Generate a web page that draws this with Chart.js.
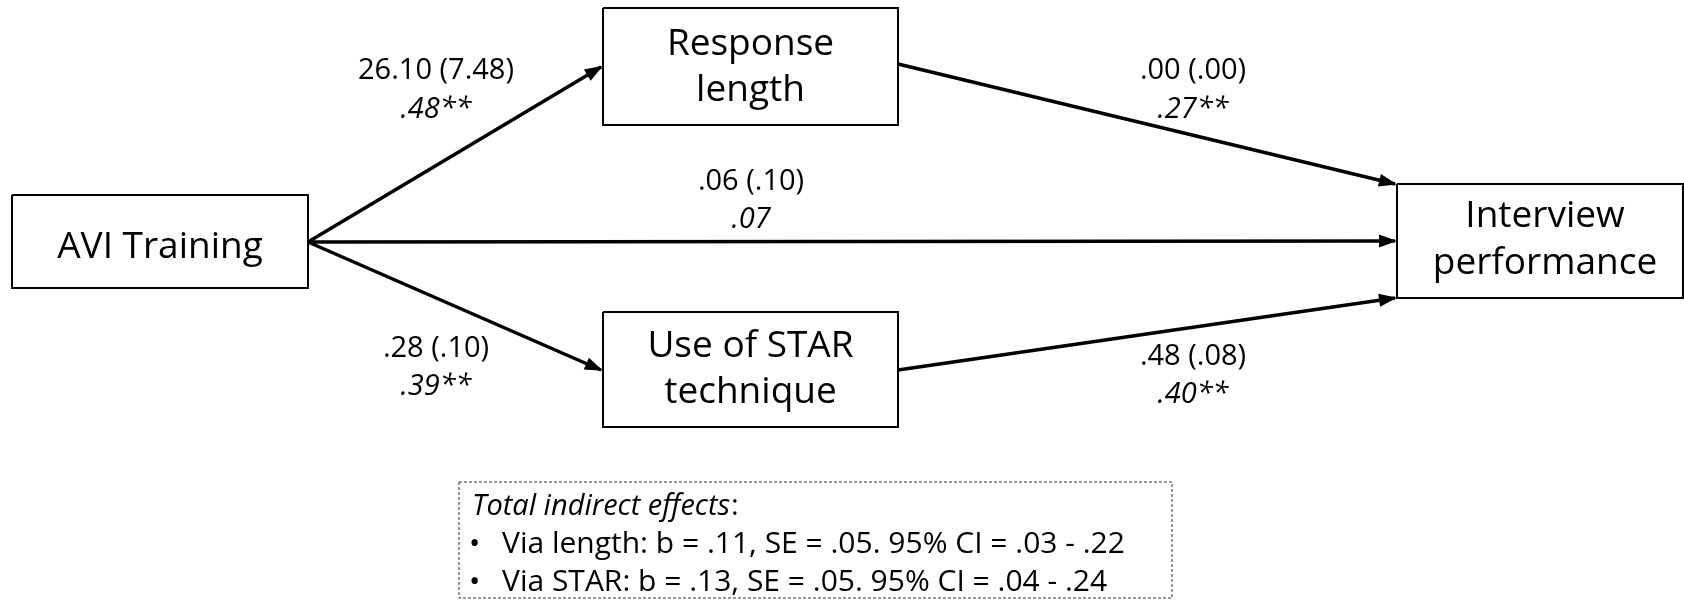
<!DOCTYPE html>
<html>
<head>
<meta charset="utf-8">
<script src="https://cdn.jsdelivr.net/npm/chart.js@4"></script>
<style>
  body { margin: 0; background: #fff; }
</style>
</head>
<body>
<canvas id="pathChart" width="1684" height="600"></canvas>
<script>
// model data
const nodes = ['AVI Training', 'Response\nlength', 'Use of STAR\ntechnique', 'Interview\nperformance'];
const pathFrom = [0, 1, 0, 0, 2];
const pathTo = [1, 3, 3, 2, 3];
const estimates = ['26.10', '.00', '.06', '.28', '.48'];
const stdErrors = ['7.48', '.00', '.10', '.10', '.08'];
const betas = ['.48**', '.27**', '.07', '.39**', '.40**'];
const indirectTitle = 'Total indirect effects';
const indirectLines = [
  'Via length: b = .11, SE = .05. 95% CI = .03 - .22',
  'Via STAR: b = .13, SE = .05. 95% CI = .04 - .24'
];

// layout (pixel-like units on a 1684 x 600 scale)
const nodeBoxes = [[12, 195, 308, 288], [603, 8, 898, 125], [603, 312, 898, 427], [1397, 184, 1683, 298]];
const nodeBaselines = [[258], [55, 101], [357, 403], [227, 274]];
const arrowEnds = [[308, 242, 601, 67], [898, 64, 1395, 184], [308, 242, 1395, 241], [308, 242, 601, 370], [898, 370, 1395, 298]];
const labelPos = [[436, 79, 118], [1193, 79, 118], [751, 190, 228], [436, 357, 395], [1193, 365, 403]];
const noteBox = [459, 482, 1172, 598];
const noteBaselines = [515, 553, 591];

const FONT = '"Open Sans", sans-serif';

function rect(b) {
  return [{x: b[0], y: b[1]}, {x: b[2], y: b[1]}, {x: b[2], y: b[3]}, {x: b[0], y: b[3]}, {x: b[0], y: b[1]}];
}

const datasets = [];
nodeBoxes.forEach((b, i) => {
  datasets.push({ label: 'box' + i, data: rect(b), borderColor: '#000', borderWidth: 2, pointRadius: 0, tension: 0, fill: false });
});
datasets.push({ label: 'note', data: rect(noteBox), borderColor: '#333', borderWidth: 1, borderDash: [3, 2], pointRadius: 0, fill: false });
arrowEnds.forEach((a, i) => {
  datasets.push({ label: 'arrow' + i, arrow: true, data: [{x: a[0], y: a[1]}, {x: a[2], y: a[3]}], borderColor: '#000', borderWidth: 3.5, pointRadius: 0, fill: false });
});

const diagramText = {
  id: 'diagramText',
  afterDatasetsDraw(chart) {
    const ctx = chart.ctx;
    const xs = chart.scales.x, ys = chart.scales.y;
    const px = v => xs.getPixelForValue(v), py = v => ys.getPixelForValue(v);
    ctx.save();
    ctx.fillStyle = '#000';
    // arrow heads
    chart.data.datasets.forEach(ds => {
      if (!ds.arrow) return;
      const p0 = ds.data[0], p1 = ds.data[1];
      const x0 = px(p0.x), y0 = py(p0.y), x1 = px(p1.x), y1 = py(p1.y);
      const ang = Math.atan2(y1 - y0, x1 - x0);
      const len = 16, half = 6.5;
      ctx.beginPath();
      ctx.moveTo(x1 + 2, y1 + 2 * Math.tan(ang));
      ctx.lineTo(x1 - len * Math.cos(ang) + half * Math.sin(ang), y1 - len * Math.sin(ang) - half * Math.cos(ang));
      ctx.lineTo(x1 - len * Math.cos(ang) - half * Math.sin(ang), y1 - len * Math.sin(ang) + half * Math.cos(ang));
      ctx.closePath();
      ctx.fill();
    });
    // node labels
    ctx.textAlign = 'center';
    ctx.textBaseline = 'alphabetic';
    ctx.font = '37px ' + FONT;
    nodes.forEach((n, i) => {
      const b = nodeBoxes[i];
      const cx = i === 3 ? 1545 : (b[0] + b[2]) / 2;
      n.split('\n').forEach((line, k) => ctx.fillText(line, px(cx), py(nodeBaselines[i][k])));
    });
    // path coefficients
    estimates.forEach((e, i) => {
      const p = labelPos[i];
      ctx.font = '29px ' + FONT;
      ctx.fillText(e + ' (' + stdErrors[i] + ')', px(p[0]), py(p[1]));
      ctx.font = 'italic 29px ' + FONT;
      ctx.fillText(betas[i], px(p[0]), py(p[2]));
    });
    // indirect effects note
    ctx.textAlign = 'left';
    ctx.font = 'italic 29px ' + FONT;
    ctx.fillText(indirectTitle, px(472), py(noteBaselines[0]));
    const tw = ctx.measureText(indirectTitle).width;
    ctx.font = '29px ' + FONT;
    ctx.fillText(':', px(472) + tw + 1, py(noteBaselines[0]));
    ctx.font = '30px ' + FONT;
    indirectLines.forEach((l, k) => {
      ctx.fillText('\u2022', px(469), py(noteBaselines[k + 1]));
      ctx.fillText(l, px(502), py(noteBaselines[k + 1]));
    });
    ctx.restore();
  }
};

new Chart(document.getElementById('pathChart'), {
  type: 'line',
  data: { datasets: datasets },
  options: {
    responsive: false,
    animation: false,
    parsing: false,
    layout: { padding: 0 },
    plugins: { legend: { display: false }, tooltip: { enabled: false } },
    scales: {
      x: { type: 'linear', min: 0, max: 1684, display: false },
      y: { type: 'linear', min: 0, max: 600, reverse: true, display: false }
    }
  },
  plugins: [diagramText]
});
</script>
</body>
</html>
